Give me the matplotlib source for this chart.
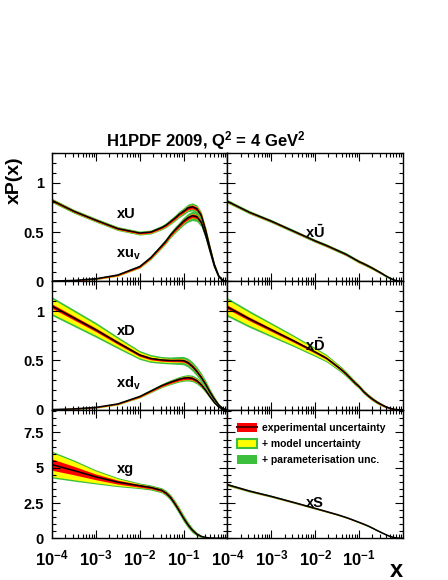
import numpy as np
import matplotlib
matplotlib.use("Agg")
import matplotlib.pyplot as plt
from matplotlib.patches import Patch
from matplotlib.lines import Line2D
from matplotlib.ticker import LogLocator, NullFormatter, MultipleLocator, FixedLocator, FixedFormatter

plt.rcParams['font.family'] = ['Liberation Sans', 'DejaVu Sans']
plt.rcParams['mathtext.fontset'] = 'custom'
plt.rcParams['mathtext.rm'] = 'Liberation Sans:bold'
plt.rcParams['mathtext.it'] = 'Liberation Sans:bold'
plt.rcParams['mathtext.bf'] = 'Liberation Sans:bold'

# log10(x) grid the curves were read at
log_x = [-4, -3.5, -3, -2.5, -2, -1.75, -1.5, -1.4, -1.3, -1.2, -1.1,
         -1.0, -0.9, -0.8, -0.7, -0.6, -0.5, -0.4, -0.3, -0.2, -0.1, 0.0]

# xU
xU = [0.82, 0.71, 0.62, 0.535, 0.49, 0.50, 0.545, 0.57, 0.605, 0.64, 0.68,
      0.71, 0.745, 0.755, 0.735, 0.67, 0.52, 0.34, 0.17, 0.055, 0.008, 0.0]
xU_exp = [0.012, 0.01, 0.01, 0.01, 0.01, 0.01, 0.01, 0.012, 0.013, 0.014, 0.015,
          0.016, 0.018, 0.02, 0.02, 0.02, 0.018, 0.015, 0.012, 0.008, 0.004, 0.002]
xU_mod = [0.015, 0.013, 0.013, 0.013, 0.013, 0.013, 0.013, 0.015, 0.016, 0.017, 0.018,
          0.019, 0.021, 0.023, 0.023, 0.023, 0.021, 0.018, 0.014, 0.01, 0.005, 0.002]
xU_tot = [0.022, 0.02, 0.02, 0.02, 0.02, 0.02, 0.022, 0.025, 0.028, 0.03, 0.033,
          0.036, 0.038, 0.04, 0.04, 0.038, 0.034, 0.028, 0.02, 0.012, 0.006, 0.003]

# xu_v
xuv = [0.004, 0.01, 0.027, 0.065, 0.15, 0.24, 0.36, 0.41, 0.47, 0.52, 0.565,
       0.61, 0.645, 0.665, 0.655, 0.60, 0.47, 0.31, 0.155, 0.05, 0.007, 0.0]
xuv_exp = [0.003, 0.004, 0.005, 0.007, 0.009, 0.01, 0.012, 0.013, 0.014, 0.015, 0.016,
           0.017, 0.018, 0.019, 0.019, 0.018, 0.016, 0.013, 0.01, 0.006, 0.003, 0.001]
xuv_mod = [0.005, 0.006, 0.007, 0.01, 0.012, 0.013, 0.015, 0.016, 0.017, 0.018, 0.019,
           0.02, 0.021, 0.022, 0.022, 0.021, 0.019, 0.016, 0.012, 0.008, 0.004, 0.001]
xuv_tot = [0.006, 0.007, 0.009, 0.012, 0.016, 0.02, 0.025, 0.028, 0.03, 0.033, 0.036,
           0.04, 0.045, 0.048, 0.048, 0.045, 0.04, 0.032, 0.022, 0.012, 0.005, 0.002]

# xUbar
xUb = [0.81, 0.70, 0.61, 0.51, 0.41, 0.365, 0.315, 0.295, 0.275, 0.25, 0.225,
       0.20, 0.18, 0.158, 0.135, 0.11, 0.085, 0.058, 0.034, 0.014, 0.003, 0.0]
xUb_exp = [0.009, 0.008, 0.008, 0.008, 0.008, 0.008, 0.008, 0.008, 0.008, 0.008, 0.008,
           0.008, 0.008, 0.008, 0.008, 0.007, 0.006, 0.005, 0.004, 0.003, 0.002, 0.001]
xUb_mod = [0.012, 0.011, 0.01, 0.01, 0.01, 0.01, 0.01, 0.01, 0.01, 0.01, 0.01,
           0.01, 0.01, 0.01, 0.01, 0.009, 0.008, 0.007, 0.006, 0.004, 0.002, 0.001]
xUb_tot = [0.018, 0.017, 0.016, 0.016, 0.016, 0.016, 0.016, 0.016, 0.016, 0.016, 0.016,
           0.016, 0.016, 0.016, 0.015, 0.014, 0.013, 0.011, 0.009, 0.006, 0.003, 0.001]

# xD
xD = [1.05, 0.93, 0.81, 0.68, 0.555, 0.52, 0.505, 0.502, 0.50, 0.50, 0.50,
      0.498, 0.478, 0.44, 0.39, 0.33, 0.26, 0.18, 0.11, 0.05, 0.012, 0.0]
xD_exp = [0.022, 0.02, 0.018, 0.016, 0.014, 0.013, 0.012, 0.012, 0.012, 0.013, 0.014,
          0.015, 0.016, 0.017, 0.017, 0.016, 0.015, 0.013, 0.01, 0.007, 0.003, 0.001]
xD_mod = [0.075, 0.065, 0.055, 0.042, 0.03, 0.025, 0.02, 0.02, 0.02, 0.02, 0.02,
          0.02, 0.02, 0.02, 0.02, 0.02, 0.018, 0.015, 0.012, 0.008, 0.004, 0.001]
xD_tot = [0.095, 0.085, 0.075, 0.06, 0.045, 0.04, 0.035, 0.035, 0.035, 0.038, 0.04,
          0.042, 0.045, 0.047, 0.047, 0.045, 0.04, 0.033, 0.025, 0.015, 0.007, 0.002]

# xd_v
xdv = [0.003, 0.01, 0.025, 0.06, 0.135, 0.19, 0.245, 0.263, 0.28, 0.295, 0.31,
       0.32, 0.325, 0.318, 0.295, 0.255, 0.20, 0.135, 0.075, 0.03, 0.006, 0.0]
xdv_exp = [0.002, 0.003, 0.004, 0.005, 0.007, 0.008, 0.01, 0.011, 0.012, 0.013, 0.014,
           0.015, 0.016, 0.016, 0.016, 0.015, 0.013, 0.01, 0.007, 0.004, 0.002, 0.001]
xdv_mod = [0.004, 0.005, 0.006, 0.008, 0.01, 0.011, 0.013, 0.014, 0.015, 0.016, 0.017,
           0.018, 0.019, 0.019, 0.019, 0.018, 0.016, 0.013, 0.009, 0.005, 0.002, 0.001]
xdv_tot = [0.005, 0.006, 0.008, 0.01, 0.014, 0.017, 0.02, 0.022, 0.024, 0.026, 0.028,
           0.03, 0.032, 0.033, 0.033, 0.03, 0.026, 0.02, 0.014, 0.008, 0.003, 0.001]

# xDbar
xDb = [1.04, 0.92, 0.81, 0.70, 0.585, 0.525, 0.44, 0.405, 0.365, 0.32, 0.275,
       0.235, 0.185, 0.145, 0.11, 0.08, 0.055, 0.033, 0.017, 0.006, 0.001, 0.0]
xDb_exp = [0.02, 0.018, 0.016, 0.014, 0.012, 0.012, 0.012, 0.012, 0.012, 0.012, 0.012,
           0.012, 0.012, 0.012, 0.012, 0.011, 0.01, 0.008, 0.006, 0.004, 0.002, 0.001]
xDb_mod = [0.075, 0.065, 0.055, 0.043, 0.032, 0.026, 0.02, 0.018, 0.017, 0.016, 0.015,
           0.014, 0.014, 0.013, 0.013, 0.012, 0.011, 0.009, 0.007, 0.005, 0.002, 0.001]
xDb_tot = [0.095, 0.085, 0.072, 0.058, 0.045, 0.038, 0.032, 0.03, 0.028, 0.026, 0.024,
           0.022, 0.021, 0.02, 0.019, 0.017, 0.015, 0.012, 0.009, 0.006, 0.003, 0.001]

# xg
xg = [5.22, 4.8, 4.35, 3.98, 3.72, 3.6, 3.4, 3.2, 2.9, 2.45, 1.95,
      1.42, 0.95, 0.57, 0.3, 0.14, 0.06, 0.025, 0.01, 0.003, 0.001, 0.0]
xg_exp = [0.4, 0.3, 0.2, 0.14, 0.1, 0.09, 0.09, 0.1, 0.11, 0.11, 0.11,
          0.1, 0.09, 0.07, 0.05, 0.03, 0.015, 0.008, 0.004, 0.002, 0.001, 0.0005]
xg_mod = [0.85, 0.65, 0.42, 0.25, 0.13, 0.1, 0.1, 0.11, 0.12, 0.13, 0.13,
          0.12, 0.1, 0.08, 0.06, 0.04, 0.02, 0.01, 0.005, 0.003, 0.001, 0.0005]
xg_tot = [0.95, 0.75, 0.5, 0.32, 0.2, 0.18, 0.18, 0.2, 0.22, 0.24, 0.25,
          0.25, 0.22, 0.18, 0.13, 0.08, 0.04, 0.02, 0.01, 0.005, 0.002, 0.001]

# xS
xS = [3.8, 3.35, 2.97, 2.55, 2.12, 1.9, 1.68, 1.58, 1.48, 1.37, 1.25,
      1.13, 1.01, 0.88, 0.73, 0.57, 0.42, 0.27, 0.14, 0.05, 0.008, 0.0]
xS_exp = [0.04, 0.035, 0.03, 0.03, 0.028, 0.027, 0.026, 0.026, 0.026, 0.026, 0.026,
          0.026, 0.026, 0.025, 0.024, 0.022, 0.02, 0.016, 0.012, 0.007, 0.003, 0.001]
xS_mod = [0.05, 0.045, 0.04, 0.04, 0.038, 0.037, 0.036, 0.036, 0.036, 0.036, 0.036,
          0.036, 0.035, 0.034, 0.032, 0.03, 0.027, 0.022, 0.016, 0.009, 0.004, 0.001]
xS_tot = [0.09, 0.08, 0.07, 0.065, 0.06, 0.055, 0.05, 0.05, 0.05, 0.05, 0.05,
          0.05, 0.048, 0.046, 0.044, 0.04, 0.035, 0.028, 0.02, 0.012, 0.005, 0.002]

x_ticks = [1e-4, 1e-3, 1e-2, 1e-1]
x_tick_labels = [r'$10^{-4}$', r'$10^{-3}$', r'$10^{-2}$', r'$10^{-1}$']

RED = '#ff0000'
YEL = '#ffff00'
GRN = '#3cbf3c'

x = 10.0 ** np.array(log_x)


def draw_pdf(ax, c, e, m, t):
    c, e, m, t = map(np.array, (c, e, m, t))
    ax.fill_between(x, c - t, c + t, color=GRN, lw=0)
    ax.fill_between(x, c - m, c + m, color=YEL, lw=0)
    ax.fill_between(x, c - e, c + e, color=RED, lw=0)
    ax.plot(x, c, color='black', lw=1.1)


fig, axes = plt.subplots(3, 2, figsize=(4.48, 5.80), dpi=100)
fig.subplots_adjust(left=0.116, right=0.8996, top=0.7362, bottom=0.0719,
                    wspace=0, hspace=0)

draw_pdf(axes[0, 0], xU, xU_exp, xU_mod, xU_tot)
draw_pdf(axes[0, 0], xuv, xuv_exp, xuv_mod, xuv_tot)
draw_pdf(axes[0, 1], xUb, xUb_exp, xUb_mod, xUb_tot)
draw_pdf(axes[1, 0], xD, xD_exp, xD_mod, xD_tot)
draw_pdf(axes[1, 0], xdv, xdv_exp, xdv_mod, xdv_tot)
draw_pdf(axes[1, 1], xDb, xDb_exp, xDb_mod, xDb_tot)
draw_pdf(axes[2, 0], xg, xg_exp, xg_mod, xg_tot)
draw_pdf(axes[2, 1], xS, xS_exp, xS_mod, xS_tot)

for r in range(3):
    for col in range(2):
        ax = axes[r, col]
        ax.set_xscale('log')
        ax.set_xlim(1e-4, 1)
        if r < 2:
            ax.set_ylim(0, 1.3)
            ax.yaxis.set_major_locator(FixedLocator([0, 0.5, 1]))
            ax.yaxis.set_major_formatter(FixedFormatter(['0', '0.5', '1']))
            ax.yaxis.set_minor_locator(MultipleLocator(0.1))
        else:
            ax.set_ylim(0, 9.1)
            ax.yaxis.set_major_locator(FixedLocator([0, 2.5, 5, 7.5]))
            ax.yaxis.set_major_formatter(FixedFormatter(['0', '2.5', '5', '7.5']))
            ax.yaxis.set_minor_locator(MultipleLocator(0.5))
        ax.xaxis.set_major_locator(FixedLocator(x_ticks))
        ax.xaxis.set_major_formatter(FixedFormatter(x_tick_labels))
        ax.xaxis.set_minor_locator(LogLocator(base=10, subs=np.arange(2, 10), numticks=20))
        ax.xaxis.set_minor_formatter(NullFormatter())
        ax.tick_params(which='both', direction='in', top=True, right=True, width=0.8)
        ax.tick_params(which='major', length=6)
        ax.tick_params(which='minor', length=3)
        ax.tick_params(axis='y', labelsize=10.5, pad=6)
        ax.tick_params(axis='x', labelsize=12, pad=7)
        for lab in ax.get_yticklabels():
            lab.set_fontweight('bold')
        if col == 1:
            ax.tick_params(axis='y', labelleft=False)
        if r < 2:
            ax.tick_params(axis='x', labelbottom=False)
        for s in ax.spines.values():
            s.set_linewidth(1.0)

lab_kw = dict(fontsize=10.5, fontweight='bold', ha='center', va='center')
axes[0, 0].text(0.0049, 0.68, 'xU', **lab_kw)
axes[0, 0].text(0.0056, 0.265, r'xu$_{v}$', **lab_kw)
axes[0, 1].text(0.0098, 0.50, r'x$\bar{U}$', **lab_kw)
axes[1, 0].text(0.0049, 0.80, 'xD', **lab_kw)
axes[1, 0].text(0.0056, 0.27, r'xd$_{v}$', **lab_kw)
axes[1, 1].text(0.0098, 0.655, r'x$\bar{D}$', **lab_kw)
axes[2, 0].text(0.0047, 4.88, 'xg', **lab_kw)
axes[2, 1].text(0.0098, 2.47, 'xS', **lab_kw)

handles = [(Patch(facecolor=RED, edgecolor='none'), Line2D([], [], color='#5a0000', lw=1.5)),
           Patch(facecolor=YEL, edgecolor=GRN, lw=1.5),
           Patch(facecolor=GRN, edgecolor='none')]
labels = ['experimental uncertainty', '+ model uncertainty', '+ parameterisation unc.']
axes[2, 1].legend(handles, labels, loc='upper left', bbox_to_anchor=(0.055, 0.895),
                  frameon=False, handlelength=1.9, handleheight=0.9,
                  handletextpad=0.5, labelspacing=0.55, borderpad=0, borderaxespad=0,
                  prop={'weight': 'bold', 'size': 7.5})

fig.text(0.46, 0.748, r'H1PDF 2009, Q$^{2}$ = 4 GeV$^{2}$', fontsize=12,
         fontweight='bold', ha='center', va='baseline')
fig.text(0.032, 0.73, 'xP(x)', fontsize=14, fontweight='bold', rotation=90,
         ha='center', va='top')
fig.text(0.8996, 0.006, 'x', fontsize=17, fontweight='bold', ha='right', va='baseline')

fig.savefig('out.png', dpi=100)
